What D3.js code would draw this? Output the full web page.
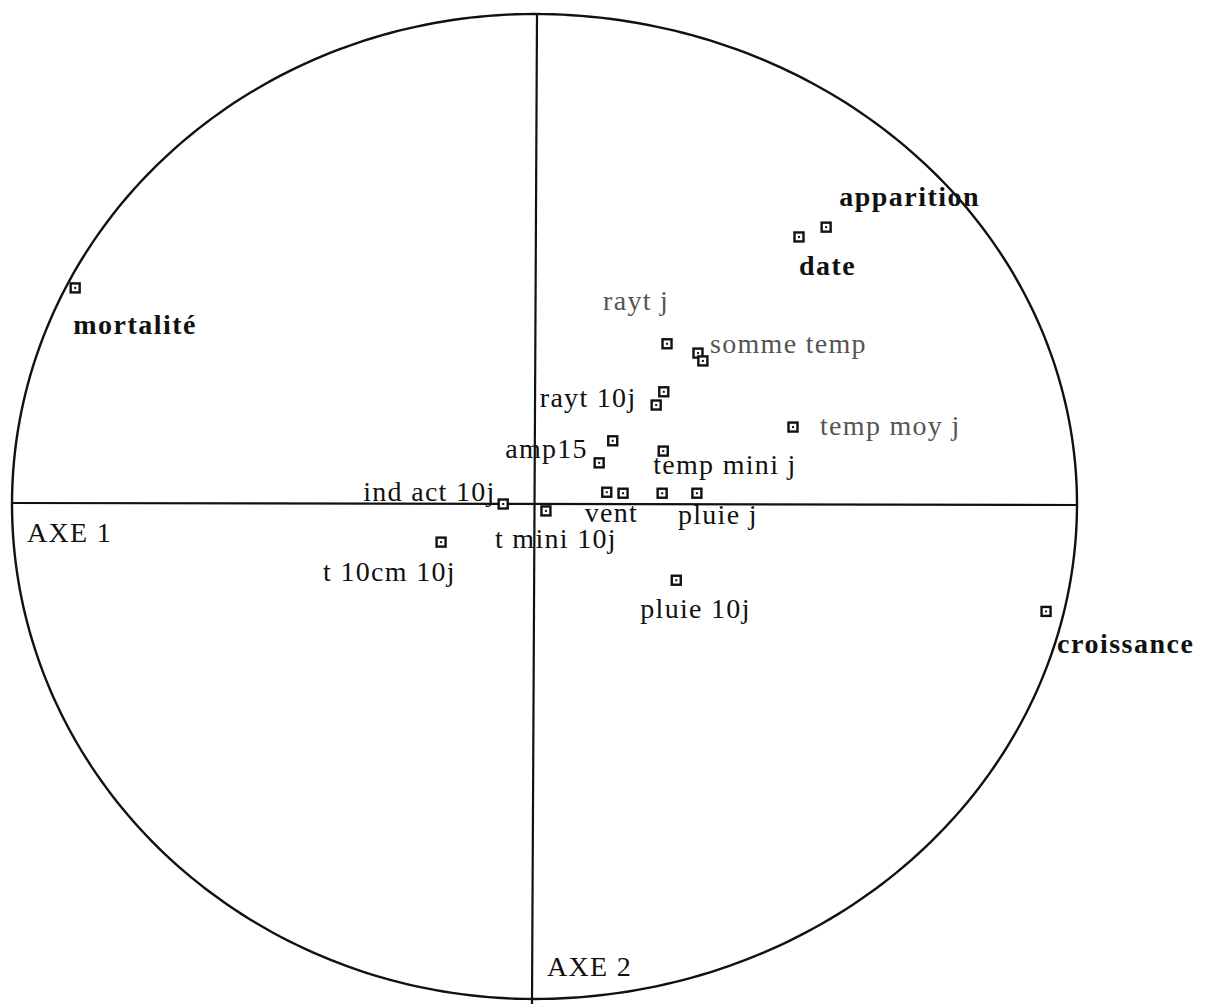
<!DOCTYPE html>
<html>
<head>
<meta charset="utf-8">
<script src="https://cdn.jsdelivr.net/npm/d3@7"></script>
<style>
    body { margin: 0; background: #fff; }
    svg { display: block; }
    .lbl { font-family: "Liberation Serif", "Times New Roman", serif; font-size: 28px; letter-spacing: 1.3px; fill: #111; }
    .lbl.bold { font-weight: bold; font-size: 28px; letter-spacing: 1.5px; }
    .lbl.faint { fill: #555; }
</style>
</head>
<body>
<div id="chart"></div>
<script>
// variables of the correlation circle (coordinates on axis 1 / axis 2)
const varNames = ['apparition', 'date', 'mortalite', 'rayt j', 'somme temp', 'somme temp 2',
    'rayt 10j', 'rayt 10j 2', 'temp moy j', 'amp15', 'amp15 2', 'temp mini j',
    'vent', 'vent 2', 'pluie j 2', 'pluie j', 'ind act 10j', 't mini 10j',
    't 10cm 10j', 'pluie 10j', 'croissance'];
const axis1 = [0.538, 0.488, -0.879, 0.245, 0.302, 0.311,
    0.239, 0.225, 0.477, 0.145, 0.120, 0.238,
    0.134, 0.164, 0.236, 0.300, -0.059, 0.022,
    -0.178, 0.262, 0.943];
const axis2 = [0.565, 0.545, 0.441, 0.327, 0.308, 0.292,
    0.229, 0.202, 0.157, 0.129, 0.084, 0.108,
    0.024, 0.022, 0.022, 0.022, 0.000, -0.014,
    -0.077, -0.154, -0.217];

// labels: text, which point it sits next to
const labelText = ['apparition', 'date', 'mortalité', 'rayt j', 'somme temp', 'rayt 10j',
    'temp moy j', 'amp15', 'temp mini j', 'vent', 'pluie j', 'ind act 10j',
    't mini 10j', 't 10cm 10j', 'pluie 10j', 'croissance'];
const labelFor = ['apparition', 'date', 'mortalite', 'rayt j', 'somme temp', 'rayt 10j',
    'temp moy j', 'amp15 2', 'temp mini j', 'vent', 'pluie j', 'ind act 10j',
    't mini 10j', 't 10cm 10j', 'pluie 10j', 'croissance'];

// label placement relative to its marker (pixels) and style
const labelLayout = {
    'apparition': {dx: 13, dy: -21, cls: 'bold'},
    'date': {dx: 0, dy: 38, cls: 'bold'},
    'mortalité': {dx: -2, dy: 46, cls: 'bold'},
    'rayt j': {dx: -64, dy: -34, cls: 'faint'},
    'somme temp': {dx: 12, dy: 0, cls: 'faint'},
    'rayt 10j': {dx: -124, dy: 15, cls: ''},
    'temp moy j': {dx: 27, dy: 8, cls: 'faint'},
    'amp15': {dx: -94, dy: -5, cls: ''},
    'temp mini j': {dx: -10, dy: 23, cls: ''},
    'vent': {dx: -22, dy: 30, cls: ''},
    'pluie j': {dx: -19, dy: 31, cls: ''},
    'ind act 10j': {dx: -140, dy: -3, cls: ''},
    't mini 10j': {dx: -51, dy: 37, cls: ''},
    't 10cm 10j': {dx: -118, dy: 39, cls: ''},
    'pluie 10j': {dx: -36, dy: 38, cls: ''},
    'croissance': {dx: 11, dy: 42, cls: 'bold'}
};

const width = 1213, height = 1004;

const svg = d3.select('#chart').append('svg')
    .attr('width', width)
    .attr('height', height);

// scanned circle is a bit lopsided, so use piecewise scales
const x = d3.scaleLinear().domain([-1, 0, 1]).range([12, 534, 1077]);
const y = d3.scaleLinear().domain([-1, 0, 1]).range([999, 504, 14]);

// unit circle
const angles = d3.range(0, 360, 1).map(d => d * Math.PI / 180);
const circleLine = d3.line()
    .x(a => x(Math.cos(a)))
    .y(a => y(Math.sin(a)))
    .curve(d3.curveLinearClosed);

svg.append('path')
    .attr('d', circleLine(angles))
    .attr('fill', 'none')
    .attr('stroke', '#111')
    .attr('stroke-width', 2.4);

// axes
svg.append('line')
    .attr('x1', x(-1)).attr('y1', y(0) - 1)
    .attr('x2', x(1)).attr('y2', y(0) + 1)
    .attr('stroke', '#111')
    .attr('stroke-width', 2.2);

svg.append('line')
    .attr('x1', x(0) + 3).attr('y1', y(1))
    .attr('x2', x(0) - 2).attr('y2', height)
    .attr('stroke', '#111')
    .attr('stroke-width', 2.2);

svg.append('text')
    .attr('class', 'lbl')
    .attr('x', x(-1) + 15)
    .attr('y', y(0) + 38)
    .text('AXE 1');

svg.append('text')
    .attr('class', 'lbl')
    .attr('x', x(0) + 13)
    .attr('y', y(-1) - 23)
    .text('AXE 2');

// markers
const points = varNames.map((name, i) => ({name, a1: axis1[i], a2: axis2[i]}));

const marks = svg.selectAll('.mark')
    .data(points)
    .enter().append('g')
    .attr('class', 'mark')
    .attr('transform', d => `translate(${x(d.a1)}, ${y(d.a2)})`);

marks.append('rect')
    .attr('x', -4.5).attr('y', -4.5)
    .attr('width', 9).attr('height', 9)
    .attr('fill', '#fff')
    .attr('stroke', '#111')
    .attr('stroke-width', 2.4);

marks.append('rect')
    .attr('x', -1).attr('y', -1)
    .attr('width', 2).attr('height', 2)
    .attr('fill', '#111');

// labels
const byName = new Map(points.map(p => [p.name, p]));
const labels = labelText.map((t, i) => ({text: t, p: byName.get(labelFor[i])}));

svg.selectAll('.lbl-var')
    .data(labels)
    .enter().append('text')
    .attr('class', d => 'lbl lbl-var ' + labelLayout[d.text].cls)
    .attr('x', d => x(d.p.a1) + labelLayout[d.text].dx)
    .attr('y', d => y(d.p.a2) + labelLayout[d.text].dy)
    .text(d => d.text);
</script>
</body>
</html>
